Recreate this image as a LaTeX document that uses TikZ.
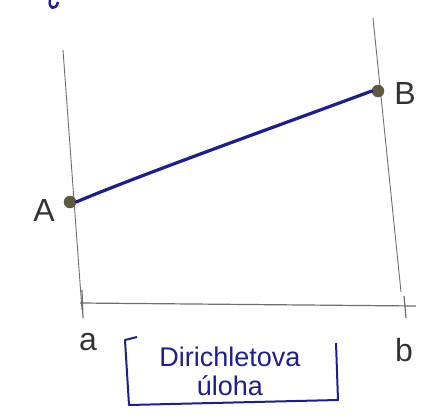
\documentclass[tikz,border=0pt]{standalone}
\usepackage{fontspec}
\setmainfont{Liberation Sans}
\usetikzlibrary{positioning,calc}
\definecolor{inkblue}{RGB}{30,30,140}
\definecolor{pencil}{RGB}{110,110,110}
\definecolor{dotfill}{RGB}{95,90,60}

\begin{document}
\begin{tikzpicture}[
  x=1pt, y=-1pt,
  axis/.style={pencil, line width=1.2pt},
  pt/.style={circle, draw=black!70, fill=dotfill, inner sep=0pt, minimum size=12pt},
  lab/.style={font=\fontsize{32}{34}\selectfont, text=black!80},
  sol/.style={inkblue, line width=3.2pt, line cap=round},
  boxtext/.style={font=\fontsize{27}{29}\selectfont, text=inkblue, align=center}
]
\useasboundingbox (0,0) rectangle (432,418);

% vertical boundaries
\coordinate (ltop) at (63,50);
\coordinate (lbot) at (82,310);
\coordinate (rtop) at (373,18);
\coordinate (rbot) at (401,292);
\draw[axis, line width=0.9pt] (ltop) -- (lbot);
\draw[axis, line width=0.9pt] (rtop) -- (rbot);

% horizontal axis with ticks
\coordinate (xl) at (80,303);
\coordinate (xr) at (416,306);
\draw[axis] (xl) -- (xr);
\draw[axis] (82,290) -- (83,318);
\draw[axis] (404,296) -- (406,318);

% boundary values
\node[pt] (dotA) at (70,202) {};
\node[pt] (dotB) at (378,91) {};
\draw[sol] (dotA.east) .. controls (140,175) and (280,125) .. (dotB.west);

\node[lab] (labA) at (44,210) {A};
\node[lab] (labB) at (405,93) {B};
\node[lab] (laba) at (88,342) {a};
\node[lab] (labb) at (404,350) {b};

% caption
\node[boxtext] (title) at (230,371) {Dirichletova\\úloha};
\draw[inkblue, line width=2pt, line join=round]
  (137,337) -- (125,340) -- (129,405) -- (338,400) -- (336,343);

% stray mark from the line above
\draw[inkblue, line width=2.5pt] (50,0) .. controls (48,9) and (56,11) .. (58,2);
\end{tikzpicture}
\end{document}
